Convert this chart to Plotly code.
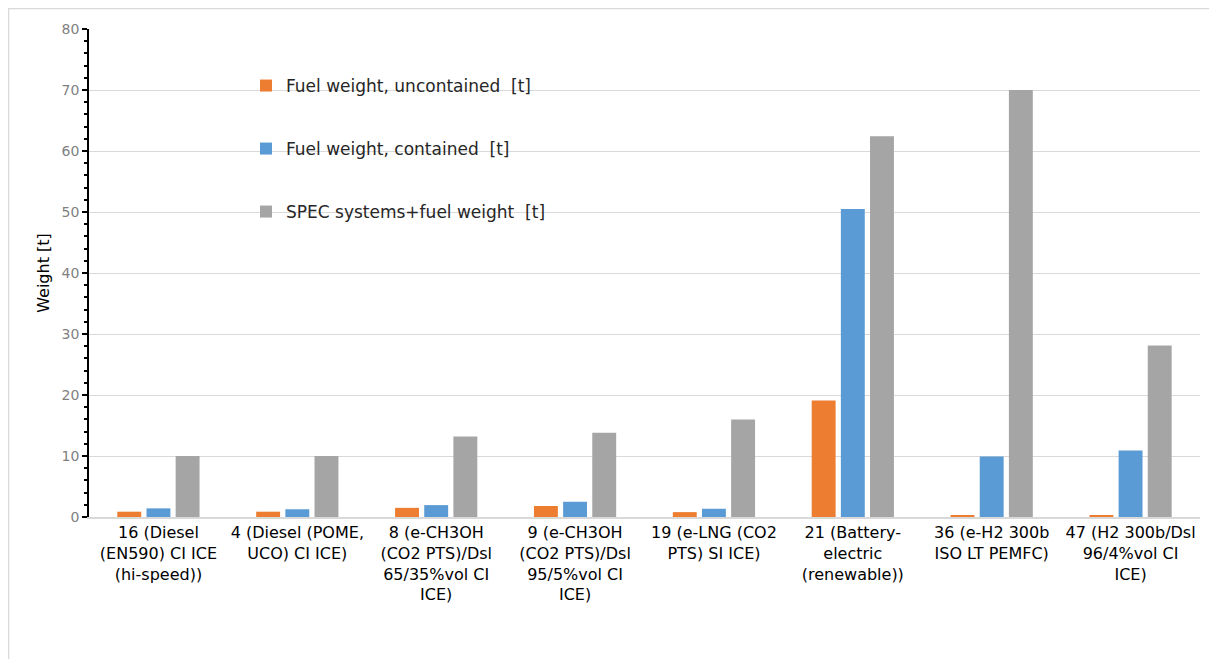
import plotly.graph_objects as go

categories = [
    "16 (Diesel<br>(EN590) CI ICE<br>(hi-speed))",
    "4 (Diesel (POME,<br>UCO) CI ICE)",
    "8 (e-CH3OH<br>(CO2 PTS)/Dsl<br>65/35%vol CI<br>ICE)",
    "9 (e-CH3OH<br>(CO2 PTS)/Dsl<br>95/5%vol CI<br>ICE)",
    "19 (e-LNG (CO2<br>PTS) SI ICE)",
    "21 (Battery-<br>electric<br>(renewable))",
    "36 (e-H2 300b<br>ISO LT PEMFC)",
    "47 (H2 300b/Dsl<br>96/4%vol CI<br>ICE)",
]
uncontained = [0.87, 0.87, 1.5, 1.8, 0.8, 19.1, 0.2, 0.2]
contained = [1.42, 1.27, 1.95, 2.5, 1.35, 50.5, 9.9, 10.9]
spec_total = [10.0, 10.0, 13.2, 13.8, 16.0, 62.4, 70.0, 28.1]

names = [
    "Fuel weight, uncontained\u00a0\u00a0[t]",
    "Fuel weight, contained\u00a0\u00a0[t]",
    "SPEC systems+fuel weight\u00a0\u00a0[t]",
]
colors = ["#ED7D31", "#5B9BD5", "#A5A5A5"]
series = [uncontained, contained, spec_total]
legends = ["legend", "legend2", "legend3"]

fig = go.Figure()
for nm, col, vals, lg in zip(names, colors, series, legends):
    fig.add_trace(go.Bar(
        x=categories, y=vals, name=nm, legend=lg, showlegend=True,
        marker=dict(color=col, line=dict(width=0)),
    ))

# page body has an 8px margin; work in screen pixels and convert
OFF = 8
W, H = 1201, 651
L, T = 89 - OFF, 29 - OFF
R = W - (1200 - OFF)
B = H - (517 - OFF)
pw, ph = W - L - R, H - T - B

def px2x(x):
    return (x - OFF - L) / pw

def px2y(y):
    return 1 - (y - OFF - T) / ph

leg_common = dict(
    font=dict(family="DejaVu Sans", size=17, color="#262626"),
    bgcolor="rgba(0,0,0,0)", xanchor="left", yanchor="middle",
    itemwidth=30,
)
fig.update_layout(
    width=W, height=H,
    margin=dict(l=L, r=R, t=T, b=B),
    paper_bgcolor="white", plot_bgcolor="white",
    showlegend=True,
    barmode="group", bargap=0.37, bargroupgap=0.18,
    font=dict(family="DejaVu Sans", size=14, color="black"),
    legend=dict(x=px2x(246), y=px2y(86), **leg_common),
    legend2=dict(x=px2x(246), y=px2y(149), **leg_common),
    legend3=dict(x=px2x(246), y=px2y(212), **leg_common),
    yaxis=dict(
        range=[0, 80], dtick=10, showgrid=True, gridcolor="#D9D9D9", gridwidth=1,
        showline=True, linecolor="black", linewidth=1.5,
        ticks="outside", ticklen=5, tickcolor="black", tickwidth=1.5,
        minor=dict(dtick=2, ticks="outside", ticklen=3, tickcolor="black", showgrid=False),
        tickfont=dict(family="DejaVu Sans", size=14, color="#7F7F7F"),
        title=dict(text="Weight [t]", font=dict(family="DejaVu Sans", size=16, color="black"), standoff=8),
        zeroline=False,
    ),
    xaxis=dict(
        showline=True, linecolor="#D9D9D9", linewidth=1.5,
        ticks="", tickfont=dict(family="DejaVu Sans", size=16, color="black"),
        showgrid=False,
    ),
    shapes=[dict(
        type="rect", xref="paper", yref="paper",
        x0=px2x(8.5), x1=px2x(1260), y0=px2y(720), y1=px2y(8.5),
        line=dict(color="#D9D9D9", width=1.5), fillcolor="rgba(0,0,0,0)", layer="below",
    )],
)

fig.write_html("out.html")
